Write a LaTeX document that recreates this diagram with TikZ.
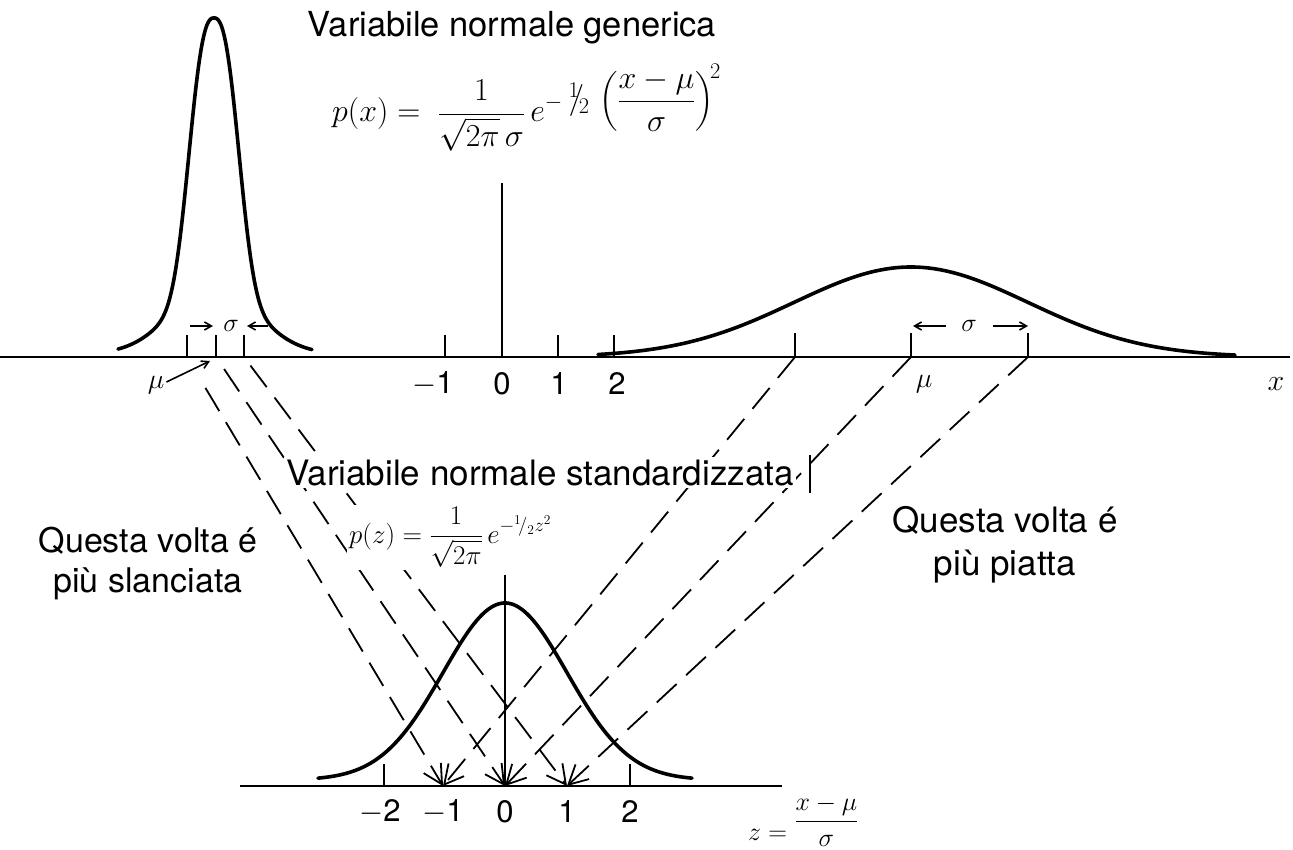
\RequirePackage{fix-cm}
\documentclass[tikz,border=0pt]{standalone}
\usepackage[no-math]{fontspec}
\setmainfont{TeX Gyre Heros}
\usepackage{amsmath}
\usepackage{graphicx}
\usetikzlibrary{arrows.meta,calc}
\newcommand{\slhalf}{{}^{1}\!/{}_{2}}
\begin{document}
\begin{tikzpicture}[x=1pt,y=-1pt,
  axisline/.style={line width=2.6pt},
  curve/.style={line width=3.6pt,line cap=round},
  tick/.style={line width=1.8pt},
  thinline/.style={line width=1.6pt},
  dline/.style={line width=1.8pt,dash pattern=on 27pt off 13pt,
     -{Straight Barb[length=19pt,width=20pt]}},
  smallarr/.style={line width=1.6pt,-{Straight Barb[length=7pt,width=8pt]}},
  title/.style={font=\fontsize{34.5}{40}\selectfont,anchor=base},
  num/.style={font=\fontsize{31}{36}\selectfont},
  note/.style={align=center,anchor=base},
  lab/.style={inner sep=0pt},
  mask/.style={fill=white,inner sep=2pt}
]
\useasboundingbox (0,0) rectangle (1293,850);
\fill[white] (0,0) rectangle (1293,850);

% ---------- coordinates ----------
\coordinate (A1) at (187,357);
\coordinate (A2) at (216,357);
\coordinate (A3) at (244,357);
\coordinate (B1) at (795,357);
\coordinate (B2) at (911,357);
\coordinate (B3) at (1028,357);
\coordinate (Zm1) at (443,786);
\coordinate (Z0) at (505,786);
\coordinate (Z1) at (567,786);
\coordinate (O) at (502,357);

% ---------- dashed connectors (drawn first, texts mask them) ----------
\draw[dline] ($(A1)!0.072!(Zm1)$) -- (Zm1);
\draw[dline] ($(A2)!0.028!(Z0)$) -- (Z0);
\draw[dline] ($(A3)!0.02!(Z1)$) -- (Z1);
\draw[dline] (B1) -- (Zm1);
\draw[dline] (B2) -- (Z0);
\draw[dline] (B3) -- (Z1);

% ---------- top axis ----------
\draw[axisline] (0,357) -- (1290,357);
\draw[thinline] (O) -- (502,183);
\foreach \t in {445,558,614}{\draw[tick] (\t,335) -- (\t,357);}
\foreach \c in {A1,A2,A3}{\draw[tick] (\c) -- ++(0,-22);}
\foreach \c in {B1,B2,B3}{\draw[tick] (\c) -- ++(0,-24);}

\node[num,lab] (tm1) at (433,384) {$-$1};
\node[num,lab] (t0) at (502,384) {0};
\node[num,lab] (t1) at (559,384) {1};
\node[num,lab] (t2) at (617,384) {2};
\node[lab,font=\fontsize{30}{36}\selectfont] (xlab) at (1276,384) {$x$};

% ---------- left narrow curve ----------
\draw[curve] plot[domain=118:312,samples=160]
  (\x,{354-336*(0.8*exp(-min(((abs(\x-214)+0.01)/30)^2.6,30))+0.2*exp(-0.5*((\x-214)/42)^2))});
\node[lab,font=\fontsize{28}{34}\selectfont] (muL) at (156,385) {$\mu$};
\coordinate (muLtip) at (210,361);
\draw[smallarr] (muL.east) ++(2,-3) -- (muLtip);
\node[lab,font=\fontsize{26}{30}\selectfont] (sigL) at (231,326) {$\sigma$};
\coordinate (sLa) at (190,326);
\coordinate (sLb) at (213,326);
\coordinate (sRa) at (268,326);
\coordinate (sRb) at (247,326);
\draw[smallarr] (sLa) -- (sLb);
\draw[smallarr] (sRa) -- (sRb);

% ---------- right wide curve ----------
\draw[curve] plot[domain=598:1235,samples=150]
  (\x,{357-90*exp(-0.5*((\x-911)/117)^2)});
\node[lab,font=\fontsize{28}{34}\selectfont] (muR) at (924,384) {$\mu$};
\node[lab,font=\fontsize{26}{30}\selectfont] (sigR) at (969,326) {$\sigma$};
\coordinate (rLa) at (946,326);
\coordinate (rLb) at (913,326);
\coordinate (rRa) at (993,326);
\coordinate (rRb) at (1028,326);
\draw[smallarr] (rLa) -- (rLb);
\draw[smallarr] (rRa) -- (rRb);

% ---------- titles and formulas ----------
\node[title] (t1title) at (512,37) {Variabile normale generica};
\node[anchor=base west,inner sep=0pt,font=\fontsize{32}{38}\selectfont] (fx) at (332,122)
  {$\displaystyle p(x)=\;\frac{1}{\sqrt{2\pi}\,\sigma}\,e^{-\;\textstyle{}^{1}\!\!/\!{}_{2}}\;\raisebox{0.38em}{$\displaystyle\left(\frac{x-\mu}{\sigma}\right)^{\!2}$}$};

\node[title,mask,font=\fontsize{35}{40}\selectfont] (t2title) at (540,485) {Variabile normale standardizzata};
\node[anchor=base west,mask,font=\fontsize{27}{32}\selectfont] (fz) at (347,543)
  {$\displaystyle p(z)=\frac{1}{\sqrt{2\pi}}\,e^{-\slhalf z^{2}}$};
\draw[tick] (810,455) -- (810,493);

\node[note,font=\fontsize{34}{40}\selectfont] (noteL) at (148,592) {Questa volta é\\più slanciata};
\node[note,font=\fontsize{35}{43}\selectfont] (noteR) at (1005,575) {Questa volta é\\più piatta};

% ---------- bottom standard curve ----------
\draw[axisline] (240,786) -- (782,786);
\draw[tick] (384,764) -- (384,786);
\draw[tick] (630,764) -- (630,786);
\draw[thinline] (Z0) -- (505,575);
\draw[curve] plot[domain=318:692,samples=150]
  (\x,{780-177*exp(-0.5*((\x-505)/62)^2)});

\node[num,lab] (zm2) at (380,812) {$-$2};
\node[num,lab] (zm1) at (443,812) {$-$1};
\node[num,lab] (z0) at (505,812) {0};
\node[num,lab] (z1) at (567,812) {1};
\node[num,lab] (z2) at (630,812) {2};
\node[anchor=base west,inner sep=0pt,font=\fontsize{26}{30}\selectfont] (zdef) at (748,840)
  {$z=\raisebox{0.45em}{$\dfrac{x-\mu}{\sigma}$}$};
\end{tikzpicture}
\end{document}
